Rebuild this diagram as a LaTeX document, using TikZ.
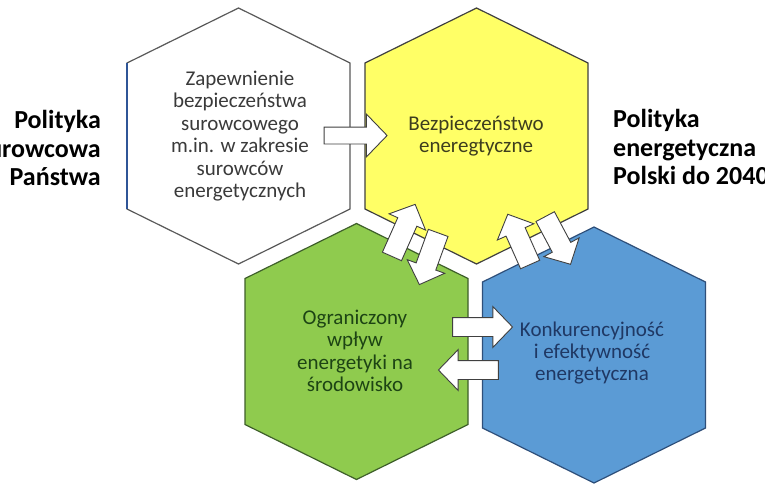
\documentclass[tikz,border=0pt]{standalone}
\usepackage{fontspec}
\setmainfont{Carlito}
\usetikzlibrary{shapes.arrows}
\definecolor{yelfill}{HTML}{FFFF66}
\definecolor{grnfill}{HTML}{8FCB4E}
\definecolor{blufill}{HTML}{5B9BD5}
\definecolor{grnline}{HTML}{3E5F2A}
\definecolor{bluline}{HTML}{2E4F7A}
\definecolor{grayline}{HTML}{595959}
\definecolor{leftblue}{HTML}{2F5597}
\definecolor{txtgray}{HTML}{3A3A3A}
\definecolor{txtyel}{HTML}{3D3D1E}
\definecolor{txtgrn}{HTML}{1D4414}
\definecolor{txtblu}{HTML}{1F3864}
\definecolor{arrline}{HTML}{404040}
\newcommand\hexpath[2]{(#1,#2-128) -- (#1+111.5,#2-73) -- (#1+111.5,#2+73) -- (#1,#2+128) -- (#1-111.5,#2+73) -- (#1-111.5,#2-73) -- cycle}
\tikzset{
  hexline/.style={line width=1.2pt, line join=miter},
  hextext/.style={align=center, font=\fontsize{21}{22.4}\selectfont, inner sep=0pt},
  sidetext/.style={font=\fontsize{26}{28.5}\selectfont\bfseries, inner sep=0pt, text=black},
  barrow/.style={single arrow, draw=arrline, fill=white, line width=0.9pt, inner xsep=0pt,
    single arrow tip angle=92, minimum width=0pt, minimum height=#1},
  wide/.style={inner ysep=8pt, single arrow head extend=13pt},
  mid/.style={inner ysep=9pt, single arrow head extend=11pt},
  narrow/.style={inner ysep=10pt, single arrow head extend=9.5pt}
}
\begin{document}
\begin{tikzpicture}[x=1pt,y=-1pt]
\useasboundingbox (0,0) rectangle (765,496);
\clip (0,0) rectangle (765,496);
\fill[white] (0,0) rectangle (765,496);
% hexagons
\draw[hexline, draw=grayline, fill=white] \hexpath{238.5}{136};
\draw[line width=1.2pt, draw=leftblue] (127,63) -- (127,209);
\draw[hexline, draw=black!75, fill=yelfill] \hexpath{476.5}{136};
\draw[hexline, draw=grnline, fill=grnfill] \hexpath{356.5}{351.5};
\draw[hexline, draw=bluline, fill=blufill] \hexpath{594}{355};
% texts
\node[hextext, text=txtgray] (surow) at (240,136) {Zapewnienie\\bezpiecze\'nstwa\\surowcowego\\m.in. w zakresie\\surowc\'ow\\energetycznych};
\node[hextext, text=txtyel] (bezp) at (476,136) {Bezpiecze\'nstwo\\eneregtyczne};
\node[hextext, text=txtgrn] (ogr) at (355,351) {Ograniczony\\wpływ\\energetyki na\\\'srodowisko};
\node[hextext, text=txtblu] (konk) at (592,353) {Konkurencyjno\'s\'c\\i efektywno\'s\'c\\energetyczna};
\node[sidetext, align=right, anchor=east] (lewy) at (101,148) {Polityka\\surowcowa\\Pa\'nstwa};
\node[sidetext, align=left, anchor=west] (prawy) at (613,147) {Polityka\\energetyczna\\Polski do 2040};
% block arrows
\node[barrow=63pt, wide] (a1) at (351.5,135.5) {};
\node[barrow=60pt, mid] (a2) at (478,327) {};
\node[barrow=60pt, mid, rotate=180] (a3) at (473,370) {};
\node[barrow=57pt, narrow, rotate=66] (aA) at (401.5,235) {};
\node[barrow=55pt, narrow, rotate=250] (aB) at (430.5,254) {};
\node[barrow=55pt, narrow, rotate=114] (aC) at (521,244) {};
\node[barrow=54pt, narrow, rotate=-62] (aD) at (555.5,236) {};
\end{tikzpicture}
\end{document}
